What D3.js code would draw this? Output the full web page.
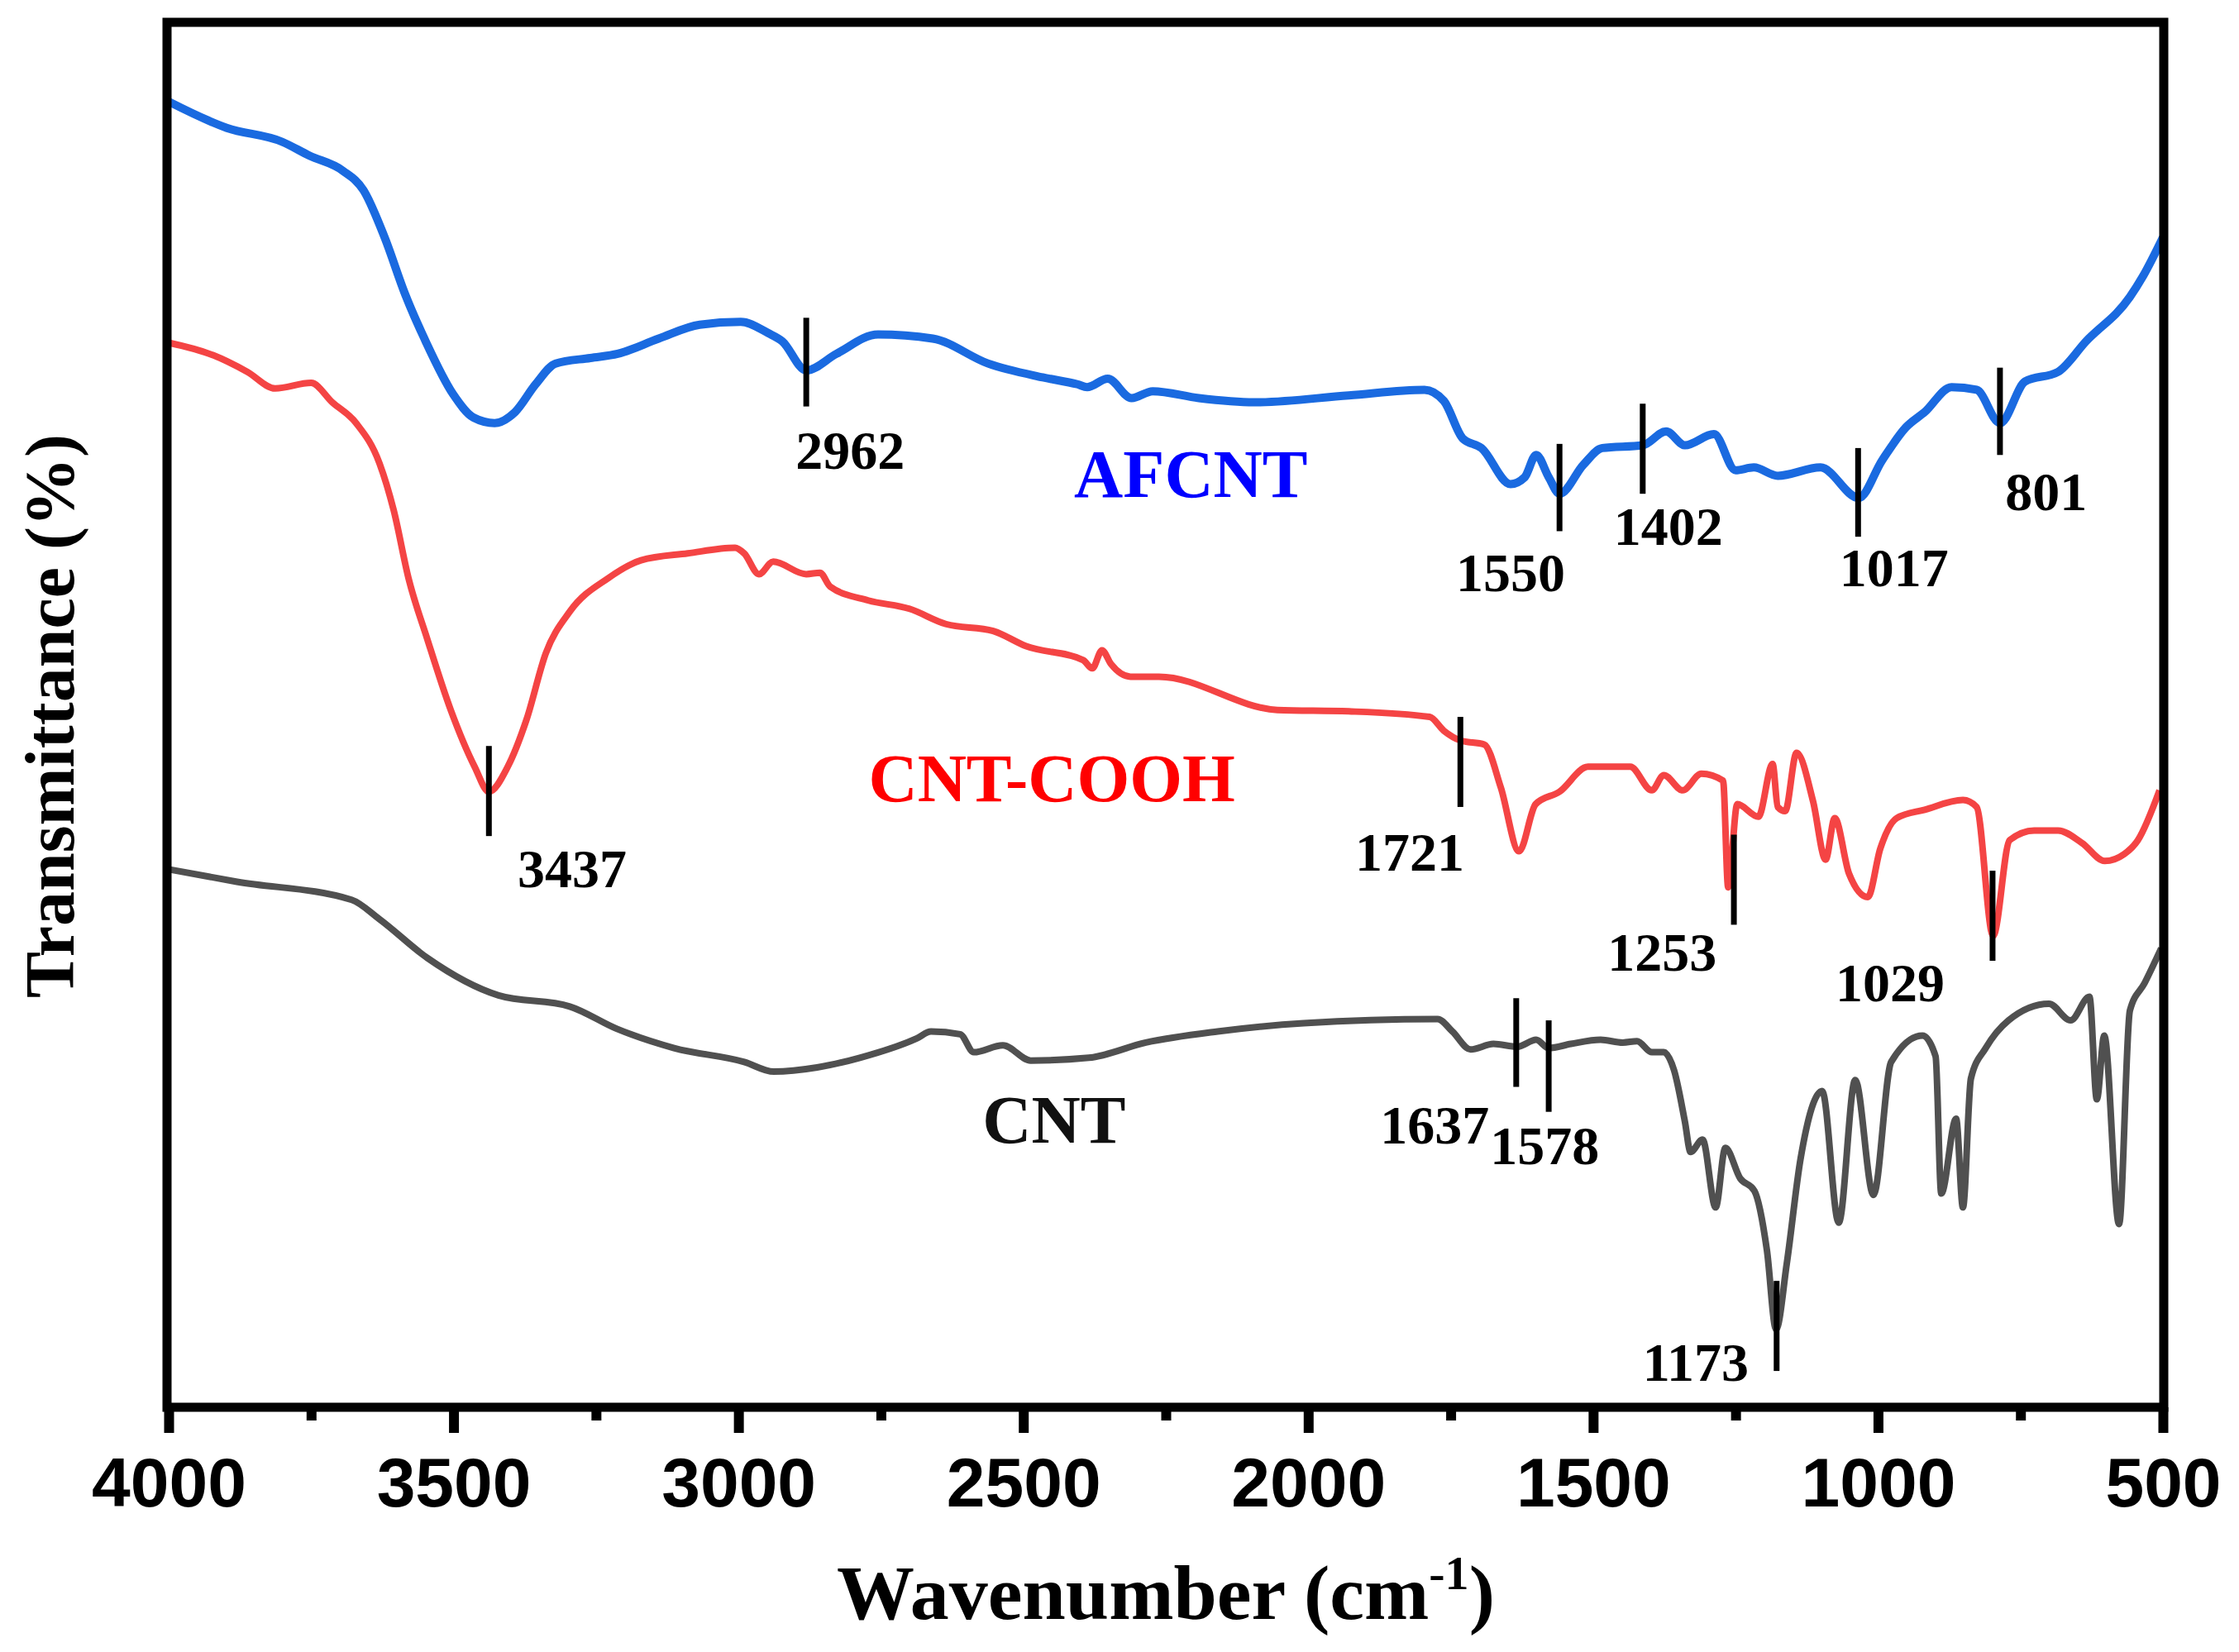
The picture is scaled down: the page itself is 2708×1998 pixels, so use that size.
<!DOCTYPE html>
<html>
<head>
<meta charset="utf-8">
<script src="https://cdn.jsdelivr.net/npm/d3@7"></script>
<style>
  body { margin: 0; background: #fff; }
  svg { display: block; }
</style>
</head>
<body>
<div id="chart"></div>
<script>
// Spectra: [wavenumber (cm-1), transmittance (a.u., 0-100 of the frame)]
const afcnt = [
  [4000, 94.1], [3898, 92.2], [3801, 91.2], [3753, 90.2], [3694, 89.1], [3658, 87.7],
  [3621, 84.3], [3585, 80.2], [3549, 76.8], [3501, 73.0], [3465, 71.3], [3428, 70.9],
  [3392, 71.7], [3356, 73.7], [3321, 75.2], [3260, 75.6], [3212, 75.9], [3140, 77.0],
  [3068, 78.0], [2996, 78.2], [2948, 77.4], [2923, 76.8], [2881, 74.7], [2828, 75.9],
  [2755, 77.3], [2659, 77.0], [2562, 75.2], [2466, 74.2], [2405, 73.7], [2388, 73.5],
  [2352, 74.1], [2310, 72.7], [2273, 73.2], [2192, 72.7], [2095, 72.4], [1929, 72.9],
  [1796, 73.3], [1762, 72.5], [1729, 69.8], [1696, 69.1], [1645, 66.5], [1620, 67.0],
  [1600, 68.6], [1578, 67.0], [1559, 65.8], [1517, 67.9], [1484, 69.1], [1413, 69.3],
  [1372, 70.3], [1339, 69.3], [1288, 70.1], [1250, 67.5], [1218, 67.7], [1176, 67.1],
  [1101, 67.7], [1034, 65.5], [993, 68.2], [951, 70.6], [918, 71.7], [871, 73.5],
  [827, 73.3], [786, 70.9], [742, 73.9], [684, 74.6], [635, 76.8], [558, 80.0],
  [535, 81.5], [500, 84.3]
];

const cntCooh = [
  [4000, 76.7], [3922, 75.8], [3862, 74.6], [3813, 73.4], [3750, 73.8], [3713, 72.4],
  [3671, 70.9], [3630, 68.0], [3605, 64.6], [3579, 59.7], [3546, 55.3], [3505, 50.2],
  [3463, 46.1], [3438, 44.3], [3405, 46.1], [3372, 49.5], [3338, 54.3], [3296, 57.3],
  [3229, 59.7], [3171, 61.0], [3089, 61.5], [3006, 61.9], [2990, 61.5], [2964, 60.0],
  [2939, 60.9], [2881, 60.0], [2857, 60.1], [2839, 59.1], [2772, 58.1], [2700, 57.5],
  [2636, 56.4], [2553, 55.9], [2495, 54.8], [2395, 53.8], [2379, 53.2], [2362, 54.5],
  [2346, 53.5], [2312, 52.6], [2262, 52.6], [2054, 50.2], [1929, 50.1], [1787, 49.7],
  [1762, 48.7], [1733, 48.0], [1691, 47.7], [1662, 44.6], [1630, 40.0], [1601, 43.4],
  [1559, 44.3], [1509, 46.1], [1435, 46.1], [1397, 44.4], [1376, 45.5], [1343, 44.4],
  [1310, 45.6], [1272, 45.1], [1263, 37.4], [1247, 43.4], [1210, 42.5], [1185, 46.3],
  [1176, 43.2], [1163, 42.9], [1143, 47.1], [1114, 43.6], [1092, 39.4], [1076, 42.4],
  [1051, 38.4], [1018, 36.7], [996, 40.2], [967, 42.4], [918, 43.0], [851, 43.7],
  [827, 43.2], [798, 33.9], [769, 40.8], [726, 41.5], [684, 41.5], [642, 40.6],
  [602, 39.3], [568, 39.8], [544, 40.8], [506, 44.4]
];

const cnt = [
  [4000, 38.7], [3880, 37.8], [3679, 36.5], [3630, 35.1], [3546, 32.3], [3421, 29.6],
  [3296, 28.8], [3214, 27.2], [3113, 25.8], [2990, 24.8], [2938, 24.1], [2862, 24.4],
  [2787, 25.1], [2687, 26.5], [2662, 27.0], [2611, 26.8], [2587, 25.5], [2536, 26.0],
  [2487, 24.9], [2385, 25.1], [2285, 26.2], [2159, 27.0], [2008, 27.6], [1773, 27.9],
  [1747, 27.0], [1715, 25.7], [1675, 26.1], [1633, 25.9], [1600, 26.4], [1578, 25.8],
  [1539, 26.1], [1487, 26.4], [1448, 26.2], [1423, 26.3], [1397, 25.5], [1376, 25.5],
  [1358, 24.2], [1339, 20.5], [1329, 18.3], [1308, 19.2], [1285, 14.3], [1268, 18.6],
  [1242, 16.4], [1217, 15.5], [1195, 11.2], [1179, 5.5], [1160, 10.3], [1136, 17.8],
  [1098, 22.7], [1069, 13.2], [1040, 23.5], [1008, 15.2], [977, 24.8], [922, 26.7],
  [899, 25.2], [889, 15.3], [863, 20.7], [851, 14.3], [837, 23.6], [811, 25.8],
  [771, 27.8], [700, 29.0], [662, 27.8], [629, 29.5], [616, 22.1], [603, 26.7],
  [577, 13.1], [558, 28.5], [532, 30.5], [503, 33.0]
];

const majorTicks = [4000, 3500, 3000, 2500, 2000, 1500, 1000, 500];
const minorTicks = [3750, 3250, 2750, 2250, 1750, 1250, 750];

// peak markers: label, marker wavenumber, marker top/bottom, label wavenumber, label baseline
const peaks = [
  ["2962", 2881, 78.5, 72.1, 2804, 67.6],
  ["3437", 3438, 47.6, 41.1, 3292, 37.4],
  ["1550", 1559, 69.4, 63.1, 1645, 58.8],
  ["1402", 1413, 72.3, 65.8, 1368, 62.1],
  ["1017", 1035, 69.1, 62.7, 972, 59.1],
  ["801", 786, 74.9, 68.6, 705, 64.6],
  ["1721", 1733, 49.7, 43.2, 1822, 38.6],
  ["1253", 1253, 41.2, 34.7, 1379, 31.4],
  ["1029", 799, 38.6, 32.1, 979, 29.2],
  ["1637", 1635, 29.4, 23.0, 1778, 18.9],
  ["1578", 1578, 27.8, 21.2, 1585, 17.4],
  ["1173", 1178, 9.0, 2.5, 1320, 1.8]
];

const seriesNames = [
  ["AFCNT", 2206, 65.6, "#0000ff"],
  ["CNT-COOH", 2450, 43.6, "#ff0000"],
  ["CNT", 2446, 19.0, "#111111"]
];

const width = 2708;
const height = 1998;
const plotLeft = 204, plotRight = 2616, plotTop = 24, plotBottom = 1700;

const svg = d3.select("#chart")
  .append("svg")
  .attr("width", width)
  .attr("height", height);

const xScale = d3.scaleLinear().domain([4000, 500]).range([plotLeft, plotRight]);
const yScale = d3.scaleLinear().domain([0, 100]).range([plotBottom, plotTop]);

const line = d3.line()
  .x(d => xScale(d[0]))
  .y(d => yScale(d[1]))
  .curve(d3.curveMonotoneX);

// Spectra
svg.append("path").datum(cnt)
  .attr("d", line).attr("fill", "none")
  .attr("stroke", "#505050").attr("stroke-width", 8).attr("stroke-linejoin", "round");
svg.append("path").datum(cntCooh)
  .attr("d", line).attr("fill", "none")
  .attr("stroke", "#f44444").attr("stroke-width", 8).attr("stroke-linejoin", "round");
svg.append("path").datum(afcnt)
  .attr("d", line).attr("fill", "none")
  .attr("stroke", "#1a6ae0").attr("stroke-width", 10).attr("stroke-linejoin", "round");

// Peak markers and labels
svg.selectAll(".peak")
  .data(peaks)
  .enter()
  .append("line")
  .attr("class", "peak")
  .attr("x1", d => xScale(d[1]))
  .attr("x2", d => xScale(d[1]))
  .attr("y1", d => yScale(d[2]))
  .attr("y2", d => yScale(d[3]))
  .attr("stroke", "#000")
  .attr("stroke-width", 7);

svg.selectAll(".peak-label")
  .data(peaks)
  .enter()
  .append("text")
  .attr("class", "peak-label")
  .attr("x", d => xScale(d[4]))
  .attr("y", d => yScale(d[5]))
  .attr("text-anchor", "middle")
  .style("font-family", "'Liberation Serif', 'Times New Roman', serif")
  .style("font-weight", "bold")
  .style("font-size", "66px")
  .text(d => d[0]);

svg.selectAll(".series-label")
  .data(seriesNames)
  .enter()
  .append("text")
  .attr("class", "series-label")
  .attr("x", d => xScale(d[1]))
  .attr("y", d => yScale(d[2]))
  .attr("text-anchor", "middle")
  .attr("fill", d => d[3])
  .style("font-family", "'Liberation Serif', 'Times New Roman', serif")
  .style("font-weight", "bold")
  .style("font-size", "82px")
  .text(d => d[0]);

// X axis (major + minor ticks)
const xAxis = d3.axisBottom(xScale)
  .tickValues(majorTicks)
  .tickSize(31)
  .tickPadding(29)
  .tickFormat(d3.format("d"));

const gx = svg.append("g")
  .attr("transform", `translate(0, ${plotBottom + 2})`)
  .call(xAxis);
gx.select(".domain").remove();
gx.selectAll(".tick line").attr("stroke", "#000").attr("stroke-width", 12);
gx.selectAll(".tick text")
  .attr("fill", "#000")
  .style("font-family", "'Liberation Sans', Arial, sans-serif")
  .style("font-weight", "bold")
  .style("font-size", "84px");

const gxMinor = svg.append("g")
  .attr("transform", `translate(0, ${plotBottom + 2})`)
  .call(d3.axisBottom(xScale).tickValues(minorTicks).tickSize(16).tickFormat(""));
gxMinor.select(".domain").remove();
gxMinor.selectAll(".tick line").attr("stroke", "#000").attr("stroke-width", 12);

// Frame
svg.append("rect")
  .attr("x", plotLeft - 2)
  .attr("y", plotTop + 3)
  .attr("width", plotRight - plotLeft + 3)
  .attr("height", plotBottom - plotTop - 1)
  .attr("fill", "none")
  .attr("stroke", "#000")
  .attr("stroke-width", 11);

// Axis titles
const xTitle = svg.append("text")
  .attr("x", (plotLeft + plotRight) / 2)
  .attr("y", 1958)
  .attr("text-anchor", "middle")
  .style("font-family", "'Liberation Serif', 'Times New Roman', serif")
  .style("font-weight", "bold")
  .style("font-size", "94px");
xTitle.append("tspan").text("Wavenumber (cm");
xTitle.append("tspan").attr("dy", -36).style("font-size", "58px").text("-1");
xTitle.append("tspan").attr("dy", 36).text(")");

svg.append("text")
  .attr("transform", `translate(89, ${(plotTop + plotBottom) / 2 + 4}) rotate(-90)`)
  .attr("text-anchor", "middle")
  .style("font-family", "'Liberation Serif', 'Times New Roman', serif")
  .style("font-weight", "bold")
  .style("font-size", "84px")
  .text("Transmittance (%)");
</script>
</body>
</html>
